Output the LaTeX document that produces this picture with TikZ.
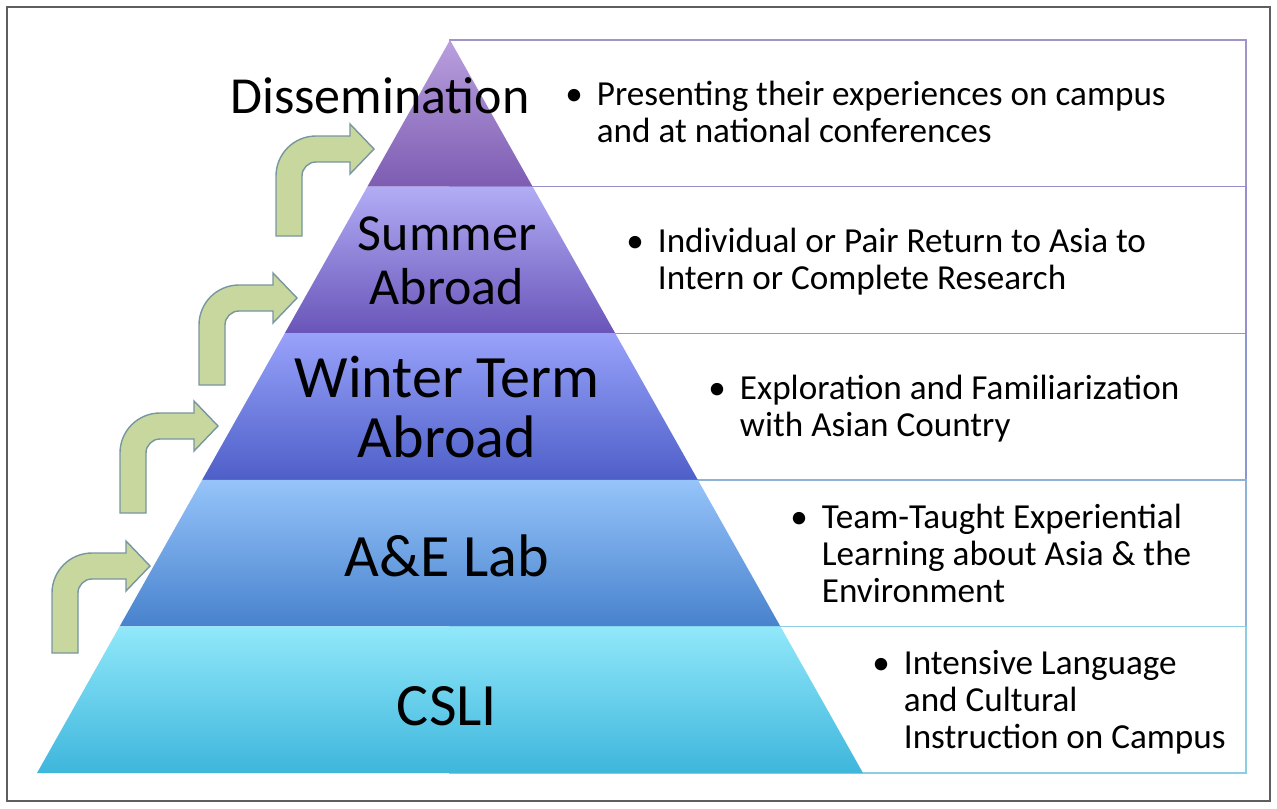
\documentclass[tikz,border=0pt]{standalone}
\usepackage{fontspec}
\setmainfont{Carlito}
\usetikzlibrary{positioning}

\definecolor{framegray}{RGB}{95,95,95}
\definecolor{arrowgreen}{RGB}{200,215,158}
\definecolor{arrowline}{RGB}{120,150,160}
\definecolor{dissemtop}{RGB}{185,160,222}
\definecolor{dissembot}{RGB}{125,92,178}
\definecolor{summertop}{RGB}{178,172,245}
\definecolor{summerbot}{RGB}{105,85,185}
\definecolor{wintertop}{RGB}{152,162,250}
\definecolor{winterbot}{RGB}{78,95,200}
\definecolor{aelabtop}{RGB}{150,196,250}
\definecolor{aelabbot}{RGB}{72,130,205}
\definecolor{cslitop}{RGB}{145,232,250}
\definecolor{cslibot}{RGB}{62,182,220}
\definecolor{lineA}{RGB}{160,148,200}
\definecolor{lineB}{RGB}{150,142,205}
\definecolor{lineC}{RGB}{140,150,210}
\definecolor{lineD}{RGB}{140,178,215}
\definecolor{lineE}{RGB}{140,205,225}

\newcommand\lvlfont{\fontsize{29.6}{30.5}\selectfont}
\newcommand\bigfont{\fontsize{34.2}{34}\selectfont}
\newcommand\itemfont{\fontsize{20}{21}\selectfont}

\tikzset{
  lvl/.style={inner sep=0pt,align=center,font=\lvlfont},
  biglvl/.style={lvl,font=\bigfont},
  itemtxt/.style={anchor=west,inner sep=0pt,font=\itemfont},
  arrowfill/.style={fill=arrowgreen,draw=arrowline,line width=0.8pt},
  bentup/.pic={
    \draw[arrowfill] (0,0) -- (0,-60) .. controls (0,-82.1) and (17.9,-100) .. (40,-100)
      -- (74,-100) -- (74,-112) -- (98,-87) -- (74,-62) -- (74,-74) -- (40,-74)
      .. controls (32.3,-74) and (26,-67.7) .. (26,-60) -- (26,0) -- cycle;
  }
}

\begin{document}
\begin{tikzpicture}[x=0.02cm,y=-0.02cm]
  \useasboundingbox (0,0) rectangle (1277,808);
  \draw[framegray,line width=0.9pt] (7,7) rectangle (1270,801);

  % boxes behind the pyramid
  \foreach \i/\lc in {0/lineA,1/lineB,2/lineC,3/lineD,4/lineE}{
    \pgfmathsetmacro\ya{40+146.6*\i}
    \pgfmathsetmacro\yb{\ya+146.6}
    \draw[\lc,line width=0.8pt,fill=white] (450,\ya) rectangle (1246,\yb);
  }

  % pyramid levels
  \foreach \i/\tc/\bc in {0/dissemtop/dissembot,1/summertop/summerbot,2/wintertop/winterbot,
                          3/aelabtop/aelabbot,4/cslitop/cslibot}{
    \pgfmathsetmacro\ya{40+146.6*\i}
    \pgfmathsetmacro\yb{\ya+146.6}
    \pgfmathsetmacro\wa{0.5634*(\ya-40)}
    \pgfmathsetmacro\wb{0.5634*(\yb-40)}
    \shade[top color=\tc,bottom color=\bc] (450-\wa,\ya) -- (450+\wa,\ya) -- (450+\wb,\yb) -- (450-\wb,\yb) -- cycle;
  }

  % steps
  \pic at (52,653) {bentup};
  \pic at (120,513) {bentup};
  \pic at (199,385) {bentup};
  \pic at (276,236) {bentup};

  \node[lvl] (dissem) at (380,96) {Dissemination};
  \node[lvl] (summer) at (447,261) {Summer\\Abroad};
  \node[biglvl] (winter) at (447,407) {Winter Term\\Abroad};
  \node[biglvl] (aelab) at (447,556) {A\&E Lab};
  \node[biglvl] (csli) at (447,706) {CSLI};

  \node[itemtxt] (dissemtxt) at (565,117) {\begin{tabular}{@{}l@{\hspace{8pt}}l@{}}\textbullet & Presenting their experiences on campus\\ & and at national conferences\end{tabular}};
  \node[itemtxt] (summertxt) at (626,264) {\begin{tabular}{@{}l@{\hspace{8pt}}l@{}}\textbullet & Individual or Pair Return to Asia to\\ & Intern or Complete Research\end{tabular}};
  \node[itemtxt] (wintertxt) at (708,411) {\begin{tabular}{@{}l@{\hspace{8pt}}l@{}}\textbullet & Exploration and Familiarization\\ & with Asian Country\end{tabular}};
  \node[itemtxt] (aelabtxt) at (790,558) {\begin{tabular}{@{}l@{\hspace{8pt}}l@{}}\textbullet & Team-Taught Experiential\\ & Learning about Asia \& the\\ & Environment\end{tabular}};
  \node[itemtxt] (cslitxt) at (872,704) {\begin{tabular}{@{}l@{\hspace{8pt}}l@{}}\textbullet & Intensive Language\\ & and Cultural\\ & Instruction on Campus\end{tabular}};
\end{tikzpicture}
\end{document}
